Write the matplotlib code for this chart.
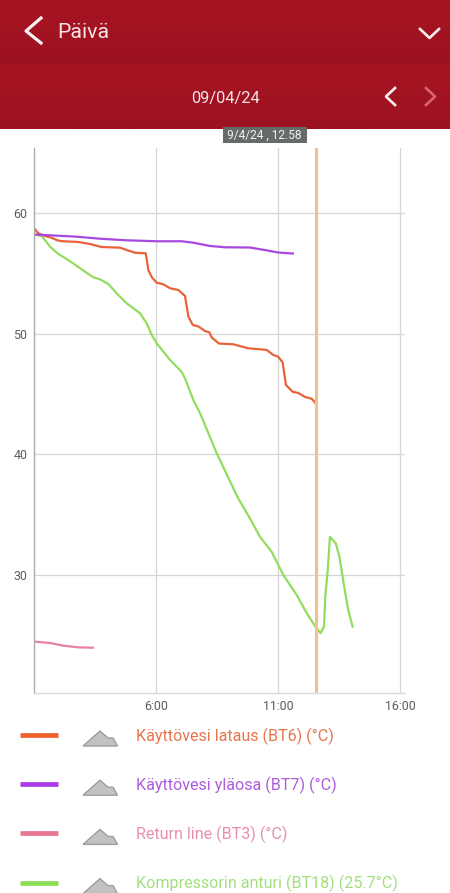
import numpy as np
import matplotlib
matplotlib.use('Agg')
import matplotlib.pyplot as plt
from matplotlib.patches import Polygon, Rectangle

plt.rcParams['font.family'] = ['Roboto', 'DejaVu Sans']

# data: hour of day, temperature (C)
bt6_h = [1.03, 1.17, 1.36, 1.65, 1.99, 2.19, 2.81, 3.29, 3.77, 4.52, 4.79, 5.13, 5.57, 5.68, 5.82, 6.02,
         6.29, 6.57, 6.91, 7.18, 7.32, 7.50, 7.73, 8.00, 8.18, 8.27, 8.57, 9.16, 9.77, 10.53, 10.80, 11.00,
         11.18, 11.32, 11.59, 11.82, 12.10, 12.37, 12.52]
bt6_t = [58.67, 58.34, 58.17, 58.01, 57.73, 57.68, 57.62, 57.45, 57.20, 57.15, 56.95, 56.73, 56.68, 55.29, 54.69, 54.24,
         54.11, 53.78, 53.63, 53.14, 51.42, 50.73, 50.61, 50.23, 50.12, 49.71, 49.19, 49.13, 48.80, 48.66, 48.24, 48.10,
         47.63, 45.75, 45.19, 45.09, 44.76, 44.61, 44.28]

bt7_h = [1.0, 2.74, 3.70, 4.79, 6.02, 7.04, 7.52, 8.20, 8.82, 9.84, 10.46, 10.99, 11.60]
bt7_t = [58.24, 58.06, 57.89, 57.76, 57.68, 57.68, 57.56, 57.29, 57.18, 57.16, 56.95, 56.75, 56.66]

bt3_h = [1.03, 1.65, 2.19, 2.81, 3.40]
bt3_t = [24.45, 24.34, 24.12, 23.98, 23.95]

bt18_h = [1.01, 1.31, 1.65, 1.99, 2.40, 2.88, 3.42, 3.70, 4.04, 4.38, 4.79, 5.34, 5.61, 5.82, 6.02, 6.57, 7.04, 7.18,
          7.52, 7.80, 8.48, 9.36, 9.84, 10.25, 10.73, 11.21, 11.76, 12.17, 12.51, 12.74, 12.88, 12.93, 13.03, 13.12,
          13.36, 13.51, 13.67, 13.87, 14.05]
bt18_t = [58.24, 58.12, 57.23, 56.62, 56.12, 55.44, 54.69, 54.52, 54.13, 53.36, 52.53, 51.70, 50.87, 49.90, 49.21, 47.83, 46.85, 46.31,
          44.51, 43.40, 40.08, 36.35, 34.69, 33.16, 31.92, 29.98, 28.32, 26.81, 25.75, 25.15, 25.75, 28.18, 30.40, 33.16,
          32.61, 31.50, 29.43, 27.08, 25.69]

cursor_h = 12.55
x_ticks = [1, 6, 11, 16]
x_labels = ['6:00', '11:00', '16:00']
y_ticks = [30, 40, 50, 60]

legend_names = ['Käyttövesi lataus (BT6) (°C)', 'Käyttövesi yläosa (BT7) (°C)',
                'Return line (BT3) (°C)', 'Kompressorin anturi (BT18) (25.7°C)']
line_colors = ['#E8623A', '#A848E0', '#E8809F', '#93DC5E']
key_colors = ['#F0602C', '#A93CE6', '#EA7494', '#8EDE55']
text_colors = ['#E5764F', '#AC5CDC', '#E890AB', '#A4DF7E']

W, H = 450, 893
fig = plt.figure(figsize=(W / 100, H / 100), dpi=100, facecolor='white')

# page layer in pixels
bg = fig.add_axes([0, 0, 1, 1])
bg.set_xlim(0, W)
bg.set_ylim(H, 0)
bg.axis('off')

grad = np.linspace(0, 1, 64).reshape(-1, 1)
bg.imshow(grad, extent=(0, W, 64, 0), cmap=matplotlib.colors.LinearSegmentedColormap.from_list('a', ['#A81424', '#9C1220']), aspect='auto', zorder=1)
bg.imshow(grad, extent=(0, W, 129, 64), cmap=matplotlib.colors.LinearSegmentedColormap.from_list('b', ['#A81424', '#9C1220']), aspect='auto', zorder=1)
bg.set_xlim(0, W)
bg.set_ylim(H, 0)

bg.plot([41, 26, 41], [18, 31, 43], color='#F8F0F0', lw=2.3, zorder=3)
bg.text(57, 32, 'Päivä', color='#F4E4E6', fontsize=15.4, va='center', ha='left', zorder=3)
bg.plot([420, 429.5, 439], [29, 38, 29], color='#F8F0F0', lw=1.9, zorder=3)
bg.text(225, 98, '09/04/24', color='#F4E4E6', fontsize=11.9, va='center', ha='center', zorder=3)
bg.plot([395, 386, 395], [88, 96.5, 105], color='#F8F0F0', lw=1.9, zorder=3)
bg.plot([426, 435, 426], [88, 96.5, 105], color='#D9636F', lw=1.9, zorder=3)

# chart
left, right, top, bottom = 34.2, 405, 148, 693
ax = fig.add_axes([left / W, 1 - bottom / H, (right - left) / W, (bottom - top) / H])
ax.patch.set_alpha(0)
ax.set_xlim(1, 1 + (right - left) / 24.4)
ax.set_ylim(60 - (bottom - 213.3) / 12.05, 60 + (213.3 - top) / 12.05)
for s in ['top', 'right']:
    ax.spines[s].set_visible(False)
ax.spines['left'].set_color('#ABABAB')
ax.spines['bottom'].set_color('#DADADA')
ax.spines['left'].set_linewidth(1)
ax.spines['bottom'].set_linewidth(1)
ax.set_xticks(x_ticks[1:])
ax.set_xticklabels(x_labels)
ax.set_yticks(y_ticks)
ax.tick_params(length=0, labelsize=8.9, labelcolor='#5C5C5C', pad=5)
ax.grid(True, color='#D6D6D6', lw=0.9)
ax.set_axisbelow(True)

ax.plot(bt3_h, bt3_t, color=line_colors[2], lw=1.6)
ax.plot(bt18_h, bt18_t, color=line_colors[3], lw=1.6)
ax.plot(bt6_h, bt6_t, color=line_colors[0], lw=1.6)
ax.plot(bt7_h, bt7_t, color=line_colors[1], lw=1.6)
ax.axvline(cursor_h, color='#F5BF8A', lw=2.2)

# tooltip and legend on top, pixel coordinates again
fg = fig.add_axes([0, 0, 1, 1])
fg.set_xlim(0, W)
fg.set_ylim(H, 0)
fg.axis('off')
fg.add_patch(Rectangle((223, 127), 83.5, 15.5, color='#666A6A', lw=0))
fg.text(264.5, 135, '9/4/24 , 12.58', color='#F2F2F2', fontsize=8.6, ha='center', va='center')

for i, name in enumerate(legend_names):
    y = 735 + i * 49.2
    fg.plot([20, 58], [y, y], color=key_colors[i], lw=3.4, solid_capstyle='butt')
    pts = np.array([[83, 11], [100, -4], [108, 3], [113, 3], [117.5, 11]]) + [0, y]
    fg.add_patch(Polygon(pts, closed=True, facecolor='#C2C2C2', edgecolor='#9E9E9E', lw=1))
    fg.text(136, y + 1, name, color=text_colors[i], fontsize=11.6, va='center', ha='left')

fig.savefig('out.png', dpi=100)
